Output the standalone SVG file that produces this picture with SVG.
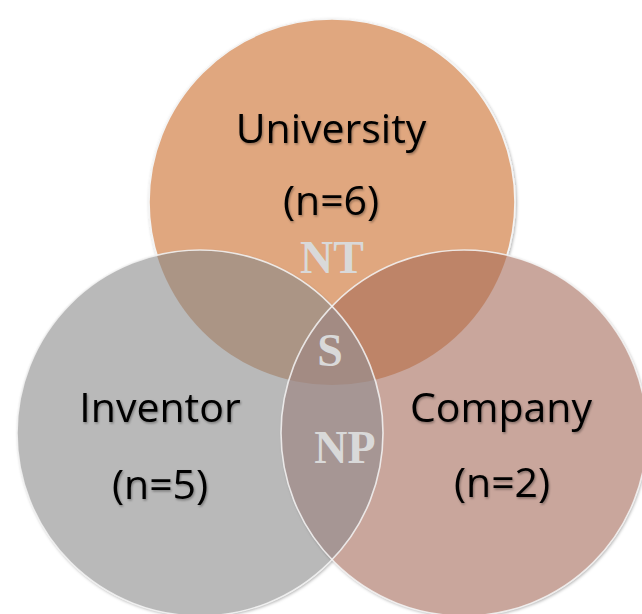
<svg xmlns="http://www.w3.org/2000/svg" width="642" height="614" viewBox="0 0 642 614">
  <defs>
    <style>
      .lbl { font-family: "Open Sans", "Noto Sans", "Liberation Sans", sans-serif; font-size: 41px; fill: #000; text-anchor: middle; }
      .reg { font-family: "Liberation Serif", "DejaVu Serif", serif; font-weight: bold; font-size: 46px; fill: #D9D9D9; text-anchor: middle; }
      .edge { fill: none; stroke: #F4F4F4; stroke-width: 1.6; stroke-opacity: 0.85; }
    </style>
    <filter id="sh" x="-10%" y="-10%" width="120%" height="120%">
      <feDropShadow dx="1" dy="1.5" stdDeviation="1.5" flood-color="#000" flood-opacity="0.3"/>
    </filter>
    <filter id="tsh" x="-10%" y="-10%" width="120%" height="130%">
      <feDropShadow dx="1" dy="1.5" stdDeviation="1" flood-color="#000" flood-opacity="0.35"/>
    </filter>
    <clipPath id="cUni"><circle cx="332" cy="202" r="183"/></clipPath>
    <clipPath id="cInv"><circle cx="200" cy="433" r="183"/></clipPath>
    <clipPath id="cComp"><circle cx="464" cy="433" r="183"/></clipPath>
  </defs>
  <rect width="642" height="614" fill="#FFFFFF"/>

  <g id="university">
    <circle cx="332" cy="202" r="183" fill="#E0A77F" stroke="#F4F4F4" stroke-width="1.6" filter="url(#sh)"/>
    <text class="lbl" x="331" y="143" filter="url(#tsh)">University</text>
    <text class="lbl" x="331" y="215" filter="url(#tsh)">(n=6)</text>
  </g>
  <g id="inventor">
    <circle cx="200" cy="433" r="183" fill="#B9B9B9" filter="url(#sh)"/>
    <text class="lbl" x="160" y="422" filter="url(#tsh)">Inventor</text>
    <text class="lbl" x="160" y="499" filter="url(#tsh)">(n=5)</text>
  </g>
  <g id="company">
    <circle cx="464" cy="433" r="183" fill="#C9A69C" filter="url(#sh)"/>
    <text class="lbl" x="501" y="422" filter="url(#tsh)">Company</text>
    <text class="lbl" x="502" y="497" filter="url(#tsh)">(n=2)</text>
  </g>

  <g id="overlaps">
    <circle cx="200" cy="433" r="183" fill="#AB9585" clip-path="url(#cUni)"/>
    <circle cx="464" cy="433" r="183" fill="#BE8468" clip-path="url(#cUni)"/>
    <circle cx="464" cy="433" r="183" fill="#A69694" clip-path="url(#cInv)"/>
    <g clip-path="url(#cUni)">
      <circle cx="464" cy="433" r="183" fill="#A38B83" clip-path="url(#cInv)"/>
    </g>
  </g>

  <g id="outlines">
    <circle class="edge" cx="200" cy="433" r="183"/>
    <circle class="edge" cx="464" cy="433" r="183"/>
  </g>

  <g id="region-labels">
    <text class="reg" x="332" y="273">NT</text>
    <text class="reg" x="330" y="366" fill="#D2D2D2">S</text>
    <text class="reg" x="345" y="463">NP</text>
  </g>
</svg>
